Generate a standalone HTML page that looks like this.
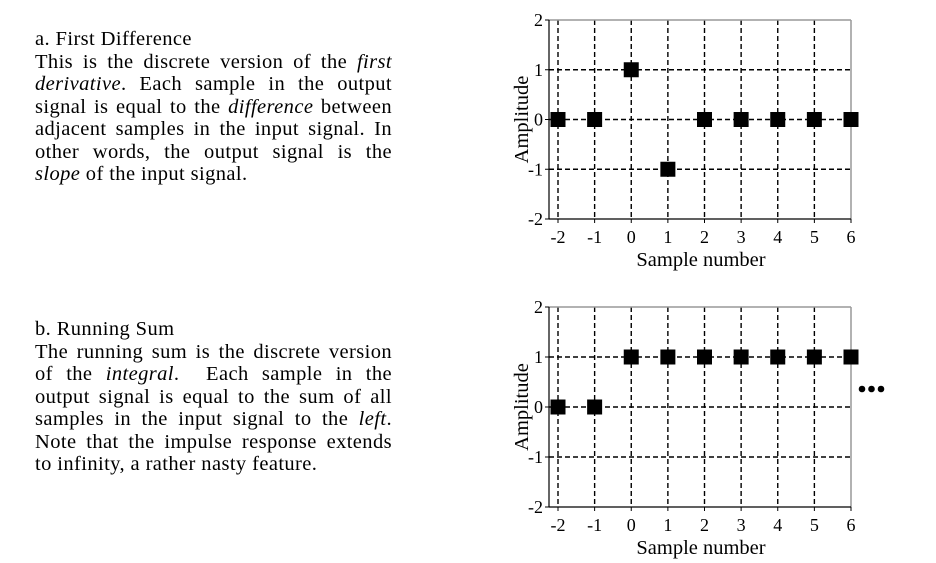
<!DOCTYPE html>
<html><head><meta charset="utf-8">
<style>
html,body{margin:0;padding:0;background:#fff;}
body{width:936px;height:563px;position:relative;overflow:hidden;font-family:"Liberation Serif",serif;color:#000;}
.ln{position:absolute;left:35px;width:357px;font-size:20.5px;line-height:22px;white-space:nowrap;text-align:justify;text-align-last:justify;letter-spacing:0.4px;}
.nl{text-align:left;text-align-last:left;}
svg{position:absolute;left:0;top:0;}
</style></head><body>
<div>
<div class="ln nl" style="top:28px">a. First Difference</div>
<div class="ln" style="top:50.5px">This is the discrete version of the <i>first</i></div>
<div class="ln" style="top:73px"><i>derivative</i>. Each sample in the output</div>
<div class="ln" style="top:95.5px">signal is equal to the <i>difference</i> between</div>
<div class="ln" style="top:118px">adjacent samples in the input signal. In</div>
<div class="ln" style="top:140.5px">other words, the output signal is the</div>
<div class="ln nl" style="top:163px"><i>slope</i> of the input signal.</div>
</div>
<div>
<div class="ln nl" style="top:318px">b. Running Sum</div>
<div class="ln" style="top:340.5px">The running sum is the discrete version</div>
<div class="ln" style="top:363px">of the <i>integral</i>.&nbsp; Each sample in the</div>
<div class="ln" style="top:385.5px">output signal is equal to the sum of all</div>
<div class="ln" style="top:408px">samples in the input signal to the <i>left</i>.</div>
<div class="ln" style="top:430.5px">Note that the impulse response extends</div>
<div class="ln nl" style="top:453px">to infinity, a rather nasty feature.</div>
</div>
<svg id="s" width="936" height="563"></svg>
<script>
const categories=[-2,-1,0,1,2,3,4,5,6];
const firstDiffValues=[0,0,1,-1,0,0,0,0,0];
const runningSumValues=[0,0,1,1,1,1,1,1,1];
const yTicks=[2,1,0,-1,-2];
const NS='http://www.w3.org/2000/svg';
const svg=document.getElementById('s');
function mk(t,a,p){const e=document.createElementNS(NS,t);for(const k in a)e.setAttribute(k,a[k]);(p||svg).appendChild(e);return e;}
function chart(name,top,bottom,vals,dots){
  const g=mk('g',{});
  
  
  const x=v=>558+(v+2)*(851-558)/8;
  const y=v=>top+(2-v)*(bottom-top)/4;
  const L=549,R=851;
  yTicks.forEach(t=>{
    if(t!==2&&t!==-2){const l=mk('line',{x1:L,x2:R,y1:y(t),y2:y(t),stroke:'#000','stroke-width':1.4,'stroke-dasharray':'5,3'},g);
    }
    mk('line',{x1:L-4,x2:L,y1:y(t),y2:y(t),stroke:'#000'},g);
    const tx=mk('text',{x:L-6,y:y(t)+6,'text-anchor':'end','font-size':18,'font-family':'Liberation Serif'},g);
    tx.textContent=String(t);
    
  });
  categories.forEach(c=>{
    if(c!==6){const l=mk('line',{x1:x(c),x2:x(c),y1:top,y2:bottom,stroke:'#000','stroke-width':1.4,'stroke-dasharray':'5,3'},g);
    }
    mk('line',{x1:x(c),x2:x(c),y1:bottom,y2:bottom+4,stroke:'#000'},g);
    const tx=mk('text',{x:x(c),y:bottom+24,'text-anchor':'middle','font-size':18,'font-family':'Liberation Serif'},g);
    tx.textContent=c;
    
  });
  mk('line',{x1:L,x2:R,y1:top,y2:top,stroke:'#999','stroke-width':1.5},g);
  mk('line',{x1:R,x2:R,y1:top,y2:bottom,stroke:'#999','stroke-width':1.5},g);
  mk('line',{x1:L,x2:L,y1:top,y2:bottom,stroke:'#000','stroke-width':1.2},g);
  mk('line',{x1:L,x2:R,y1:bottom,y2:bottom,stroke:'#000','stroke-width':1.2},g);
  const xt=mk('text',{x:701,y:bottom+47,'text-anchor':'middle','font-size':20.5,'font-family':'Liberation Serif'},g);
  xt.textContent='Sample number';
  
  const cy=(top+bottom)/2;
  const yt=mk('text',{x:0,y:0,transform:`translate(528,${cy}) rotate(-90)`,'text-anchor':'middle','font-size':20.5,'font-family':'Liberation Serif'},g);
  yt.textContent='Amplitude';
  
  vals.forEach((v,i)=>{
    const r=mk('rect',{x:x(categories[i])-7.5,y:y(v)-7.5,width:15,height:15,fill:'#000'},g);
    
    
  });
  if(dots){[862,871.5,881].forEach(dx=>{
    const d=mk('circle',{cx:dx,cy:389,r:3.3,fill:'#000'},g);
    
    
  });}
}
chart('first-difference-chart',20,219,firstDiffValues,false);
chart('running-sum-chart',307,507,runningSumValues,true);
</script>
</body></html>
